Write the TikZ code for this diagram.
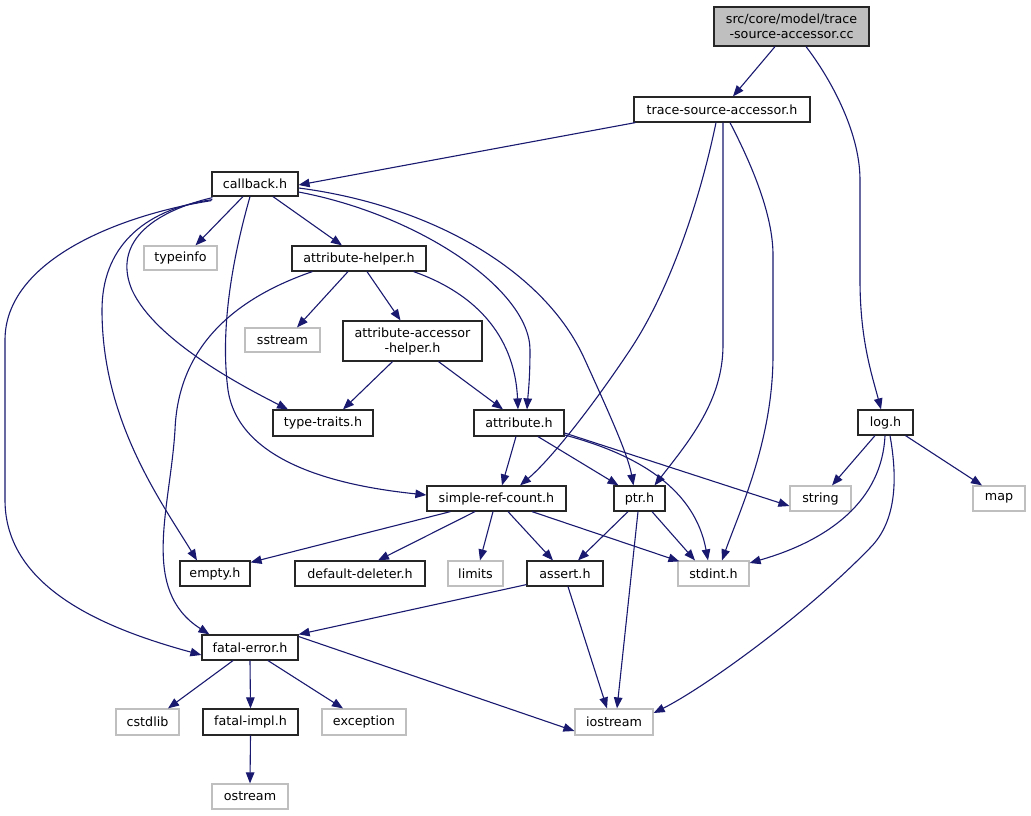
\documentclass[tikz,border=0pt]{standalone}
\usepackage{fontspec}
\setmainfont{DejaVu Sans}
\usetikzlibrary{arrows.meta}
\definecolor{edgeblue}{HTML}{191970}
\definecolor{undoc}{HTML}{BFBFBF}
\begin{document}
\begin{tikzpicture}[x=1pt,y=-1pt,
  font=\fontsize{12.7}{15}\selectfont,
  box/.style={inner sep=0pt, align=center, line width=1.2pt},
  doc/.style={box, draw=black!85},
  und/.style={box, draw=undoc},
  sz/.style 2 args={minimum width=#1pt, minimum height=#2pt},
  dep/.style={draw=edgeblue, line width=1.1pt, -{Triangle[length=11pt,width=8.5pt]}}]
\useasboundingbox (0,0) rectangle (1031,816);
% nodes
\node[doc, fill=undoc, sz={155}{39}] (top) at (791.5,26.5) {src/core/model/trace\\-source-accessor.cc};
\node[doc, sz={176}{25}] (tsa) at (722,109.5) {trace-source-accessor.h};
\node[doc, sz={86}{24}] (cb) at (255,184) {callback.h};
\node[und, sz={73}{24}] (typeinfo) at (180.5,258) {typeinfo};
\node[doc, sz={134}{25}] (ah) at (359,258.5) {attribute-helper.h};
\node[und, sz={75}{24}] (sstream) at (282.5,340) {sstream};
\node[doc, sz={139}{40}] (aah) at (412.5,341) {attribute-accessor\\-helper.h};
\node[doc, sz={100}{26}] (tt) at (323,423) {type-traits.h};
\node[doc, sz={90}{26}] (attr) at (519,423) {attribute.h};
\node[doc, sz={55}{25}] (log) at (885.5,422.5) {log.h};
\node[doc, sz={139}{25}] (src) at (496.5,498.5) {simple-ref-count.h};
\node[doc, sz={51}{25}] (ptr) at (639.5,498.5) {ptr.h};
\node[und, sz={61}{25}] (string) at (820.5,498.5) {string};
\node[und, sz={52}{25}] (map) at (999,498.5) {map};
\node[doc, sz={70}{25}] (empty) at (215,573.5) {empty.h};
\node[doc, sz={130}{25}] (dd) at (360,573.5) {default-deleter.h};
\node[und, sz={55}{25}] (limits) at (475.5,573.5) {limits};
\node[doc, sz={76}{25}] (assert) at (565,573.5) {assert.h};
\node[und, sz={71}{25}] (stdint) at (713.5,573.5) {stdint.h};
\node[doc, sz={96}{25}] (fe) at (250,647.5) {fatal-error.h};
\node[und, sz={63}{26}] (cstdlib) at (147.5,722) {cstdlib};
\node[doc, sz={95}{26}] (fi) at (250.5,722) {fatal-impl.h};
\node[und, sz={84}{26}] (exception) at (364,722) {exception};
\node[und, sz={78}{26}] (iostream) at (614,722) {iostream};
\node[und, sz={76}{25}] (ostream) at (250,796.5) {ostream};
% edges from top
\draw[dep] ([xshift=-16.5pt]top.south) -- ([xshift=11pt]tsa.north);
\draw[dep] ([xshift=14.5pt]top.south) .. controls (828,75) and (860,130) .. (860,180) -- (860,280) .. controls (860,340) and (872,375) .. ([xshift=-4.5pt]log.north);
% edges from trace-source-accessor.h
\draw[dep] ([xshift=2pt]tsa.south west) -- ([yshift=-1pt]cb.east);
\draw[dep] ([xshift=-6pt]tsa.south) .. controls (700,200) and (670,290) .. (630,350) .. controls (590,410) and (550,460) .. ([xshift=23.5pt]src.north);
\draw[dep] ([xshift=1pt]tsa.south) -- (723,345) .. controls (723,400) and (690,440) .. ([xshift=15pt]ptr.north);
\draw[dep] ([xshift=8pt]tsa.south) .. controls (752,165) and (773,215) .. (773,255) -- (773,355) .. controls (773,440) and (740,510) .. ([xshift=8.5pt]stdint.north);
% edges from callback.h
\draw[dep] ([xshift=-12pt]cb.south) -- ([xshift=15pt]typeinfo.north);
\draw[dep] ([xshift=18pt]cb.south) -- ([xshift=-17pt]ah.north);
\draw[dep] ([xshift=1pt,yshift=-1pt]cb.south west) .. controls (140,215) and (115,250) .. (132,290) .. controls (155,340) and (240,385) .. ([xshift=-35pt]tt.north);
\draw[dep] ([xshift=1pt,yshift=-3pt]cb.south west) .. controls (140,210) and (102,250) .. (102,310) .. controls (102,420) and (160,500) .. ([xshift=-18pt]empty.north);
\draw[dep] ([yshift=-4pt]cb.south west) .. controls (120,215) and (5,260) .. (5,340) -- (5,500) .. controls (5,590) and (110,630) .. ([yshift=-7.5pt]fe.west);
\draw[dep] ([xshift=-5pt]cb.south) .. controls (232,260) and (220,330) .. (228,390) .. controls (240,470) and (360,488) .. ([yshift=3.5pt]src.west);
\draw[dep] ([yshift=-8pt]cb.east) .. controls (420,215) and (530,290) .. (530,350) .. controls (530,380) and (528,395) .. ([xshift=8pt]attr.north);
\draw[dep] ([yshift=-4pt]cb.east) .. controls (430,205) and (545,270) .. (585,360) .. controls (610,415) and (628,455) .. ([xshift=-6pt]ptr.north);
% edges from attribute-helper.h
\draw[dep] ([xshift=-11pt]ah.south) -- ([xshift=14.5pt]sstream.north);
\draw[dep] ([xshift=8pt]ah.south) -- ([xshift=-12pt]aah.north);
\draw[dep] ([xshift=-13pt]ah.south east) .. controls (480,295) and (515,340) .. ([xshift=-1pt]attr.north);
\draw[dep] ([xshift=21pt]ah.south west) .. controls (230,300) and (178,350) .. (175,430) .. controls (170,510) and (140,590) .. ([xshift=8pt]fe.north west);
% edges from attribute-accessor-helper.h
\draw[dep] ([xshift=-20pt]aah.south) -- ([xshift=20pt]tt.north);
\draw[dep] ([xshift=26pt]aah.south) -- ([xshift=-16pt]attr.north);
% edges from attribute.h
\draw[dep] ([xshift=-3pt]attr.south) -- ([xshift=5.5pt]src.north);
\draw[dep] ([xshift=19pt]attr.south) -- ([xshift=-21pt]ptr.north);
\draw[dep] ([yshift=-10pt]attr.east) -- ([yshift=-7.5pt]string.west);
\draw[dep] ([yshift=-12pt]attr.east) .. controls (640,455) and (695,490) .. ([xshift=-5.5pt]stdint.north);
% edges from log.h
\draw[dep] ([xshift=-10.5pt]log.south) -- ([xshift=11.5pt]string.north);
\draw[dep] ([xshift=20pt]log.south) -- ([xshift=-17pt]map.north);
\draw[dep] ([xshift=-0.5pt]log.south) .. controls (882,500) and (830,540) .. ([yshift=10.5pt]stdint.east);
\draw[dep] ([xshift=4.5pt]log.south) .. controls (897,475) and (898,520) .. (870,548) .. controls (800,620) and (700,690) .. ([yshift=9pt]iostream.east);
% edges from simple-ref-count.h
\draw[dep] ([xshift=-46pt]src.south) -- ([yshift=-2pt]empty.north east);
\draw[dep] ([xshift=-21.5pt]src.south) -- ([xshift=18pt]dd.north);
\draw[dep] ([xshift=-3.5pt]src.south) -- ([xshift=4.5pt]limits.north);
\draw[dep] ([xshift=11.5pt]src.south) -- ([xshift=-12pt]assert.north);
\draw[dep] ([xshift=35.5pt]src.south) -- ([xshift=2pt,yshift=-1pt]stdint.north west);
% edges from ptr.h
\draw[dep] ([xshift=-11.5pt]ptr.south) -- ([xshift=13pt]assert.north);
\draw[dep] ([xshift=12.5pt]ptr.south) -- ([xshift=-18.5pt]stdint.north);
\draw[dep] ([xshift=-1.5pt]ptr.south) -- ([xshift=3pt]iostream.north);
% edges from assert.h
\draw[dep] ([yshift=2pt]assert.south west) -- (fe.north east);
\draw[dep] ([xshift=3pt]assert.south) -- ([xshift=-7pt]iostream.north);
% edges from fatal-error.h
\draw[dep] ([xshift=-17pt]fe.south) -- ([xshift=20.5pt]cstdlib.north);
\draw[dep] (fe.south) -- (fi.north);
\draw[dep] ([xshift=18pt]fe.south) -- ([xshift=-21pt]exception.north);
\draw[dep] ([yshift=11pt]fe.east) -- ([yshift=-9pt]iostream.west);
% edge from fatal-impl.h
\draw[dep] (fi.south) -- (ostream.north);
\end{tikzpicture}
\end{document}
